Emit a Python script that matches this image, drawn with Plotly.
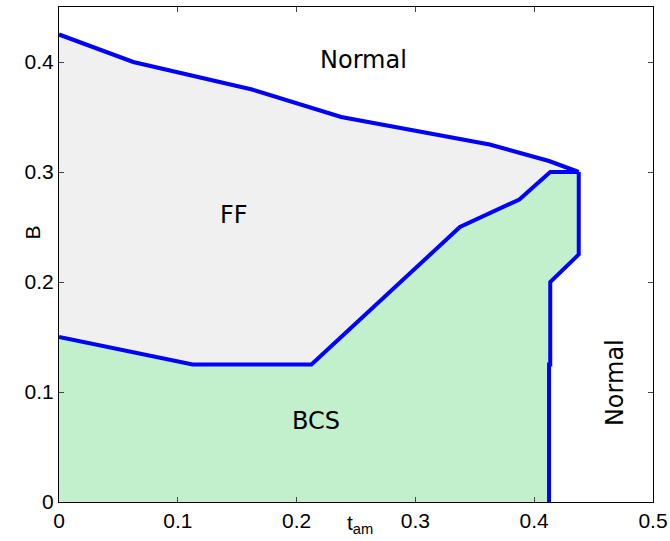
import plotly.graph_objects as go

# FF / Normal boundary (upper)
upper_t = [0.0, 0.0625, 0.1625, 0.2375, 0.3625, 0.4125, 0.4375]
upper_B = [0.425, 0.40, 0.375, 0.35, 0.325, 0.31, 0.30]

# FF / BCS boundary (lower)
lower_t = [0.0, 0.1125, 0.2125, 0.3375, 0.3875, 0.4135, 0.4375]
lower_B = [0.15, 0.125, 0.125, 0.25, 0.275, 0.30, 0.30]

# BCS / Normal boundary (right)
right_t = [0.4375, 0.4375, 0.4135, 0.4135, 0.4125, 0.4125]
right_B = [0.30, 0.225, 0.20, 0.125, 0.125, 0.0]

x_ticks = [0, 0.1, 0.2, 0.3, 0.4, 0.5]
x_labels = ["0", "0.1", "0.2", "0.3", "0.4", "0.5"]
y_ticks = [0, 0.1, 0.2, 0.3, 0.4]
y_labels = ["0", "0.1", "0.2", "0.3", "0.4"]

GREY = "#f0f0f0"
GREEN = "#c2f0cd"
BLUE = "#0000ff"

fig = go.Figure()

# FF region fill
ff_t = upper_t + lower_t[::-1]
ff_B = upper_B + lower_B[::-1]
fig.add_trace(go.Scatter(x=ff_t, y=ff_B, fill="toself", fillcolor=GREY,
                         mode="none", hoverinfo="skip", showlegend=False))

# BCS region fill
bcs_t = lower_t + right_t[1:] + [0.0]
bcs_B = lower_B + right_B[1:] + [0.0]
fig.add_trace(go.Scatter(x=bcs_t, y=bcs_B, fill="toself", fillcolor=GREEN,
                         mode="none", hoverinfo="skip", showlegend=False))

# boundary lines
for tt, bb in [(upper_t, upper_B), (lower_t, lower_B), (right_t, right_B)]:
    fig.add_trace(go.Scatter(x=tt, y=bb, mode="lines",
                             line=dict(color=BLUE, width=4),
                             showlegend=False, hoverinfo="skip"))

label_font = dict(family="DejaVu Sans", size=24, color="black")
fig.add_annotation(x=0.2559, y=0.4018, text="Normal", showarrow=False, font=label_font)
fig.add_annotation(x=0.147, y=0.261, text="FF", showarrow=False, font=label_font)
fig.add_annotation(x=0.2163, y=0.0736, text="BCS", showarrow=False, font=label_font)
fig.add_annotation(x=0.468, y=0.109, text="Normal", showarrow=False, font=label_font,
                   textangle=-90)

tick_font = dict(family="Liberation Sans", size=21, color="black")
fig.add_annotation(x=0.481, y=-0.014, xref="paper", yref="paper",
                   xanchor="left", yanchor="top",
                   text="t<sub>am</sub>", showarrow=False, font=tick_font)
fig.add_annotation(x=-0.0657, y=0.5455, xref="paper", yref="paper",
                   text="B", showarrow=False,
                   font=dict(family="Liberation Sans", size=21, color="black"),
                   textangle=-90)

fig.update_xaxes(range=[0, 0.5], tickvals=x_ticks, ticktext=x_labels,
                 showline=True, linecolor="black", linewidth=1, mirror="ticks",
                 ticks="inside", ticklen=5, tickcolor="#444", showgrid=False,
                 zeroline=False, tickfont=tick_font, automargin=False)
fig.update_yaxes(range=[0, 0.45], tickvals=y_ticks, ticktext=y_labels,
                 showline=True, linecolor="black", linewidth=1, mirror="ticks",
                 ticks="inside", ticklen=5, tickcolor="#444", showgrid=False,
                 zeroline=False, tickfont=tick_font, automargin=False)

fig.update_layout(width=670, height=541, plot_bgcolor="white", paper_bgcolor="white",
                  margin=dict(l=59, r=17, t=7, b=39, autoexpand=False), showlegend=False)

fig.write_html("out.html")
